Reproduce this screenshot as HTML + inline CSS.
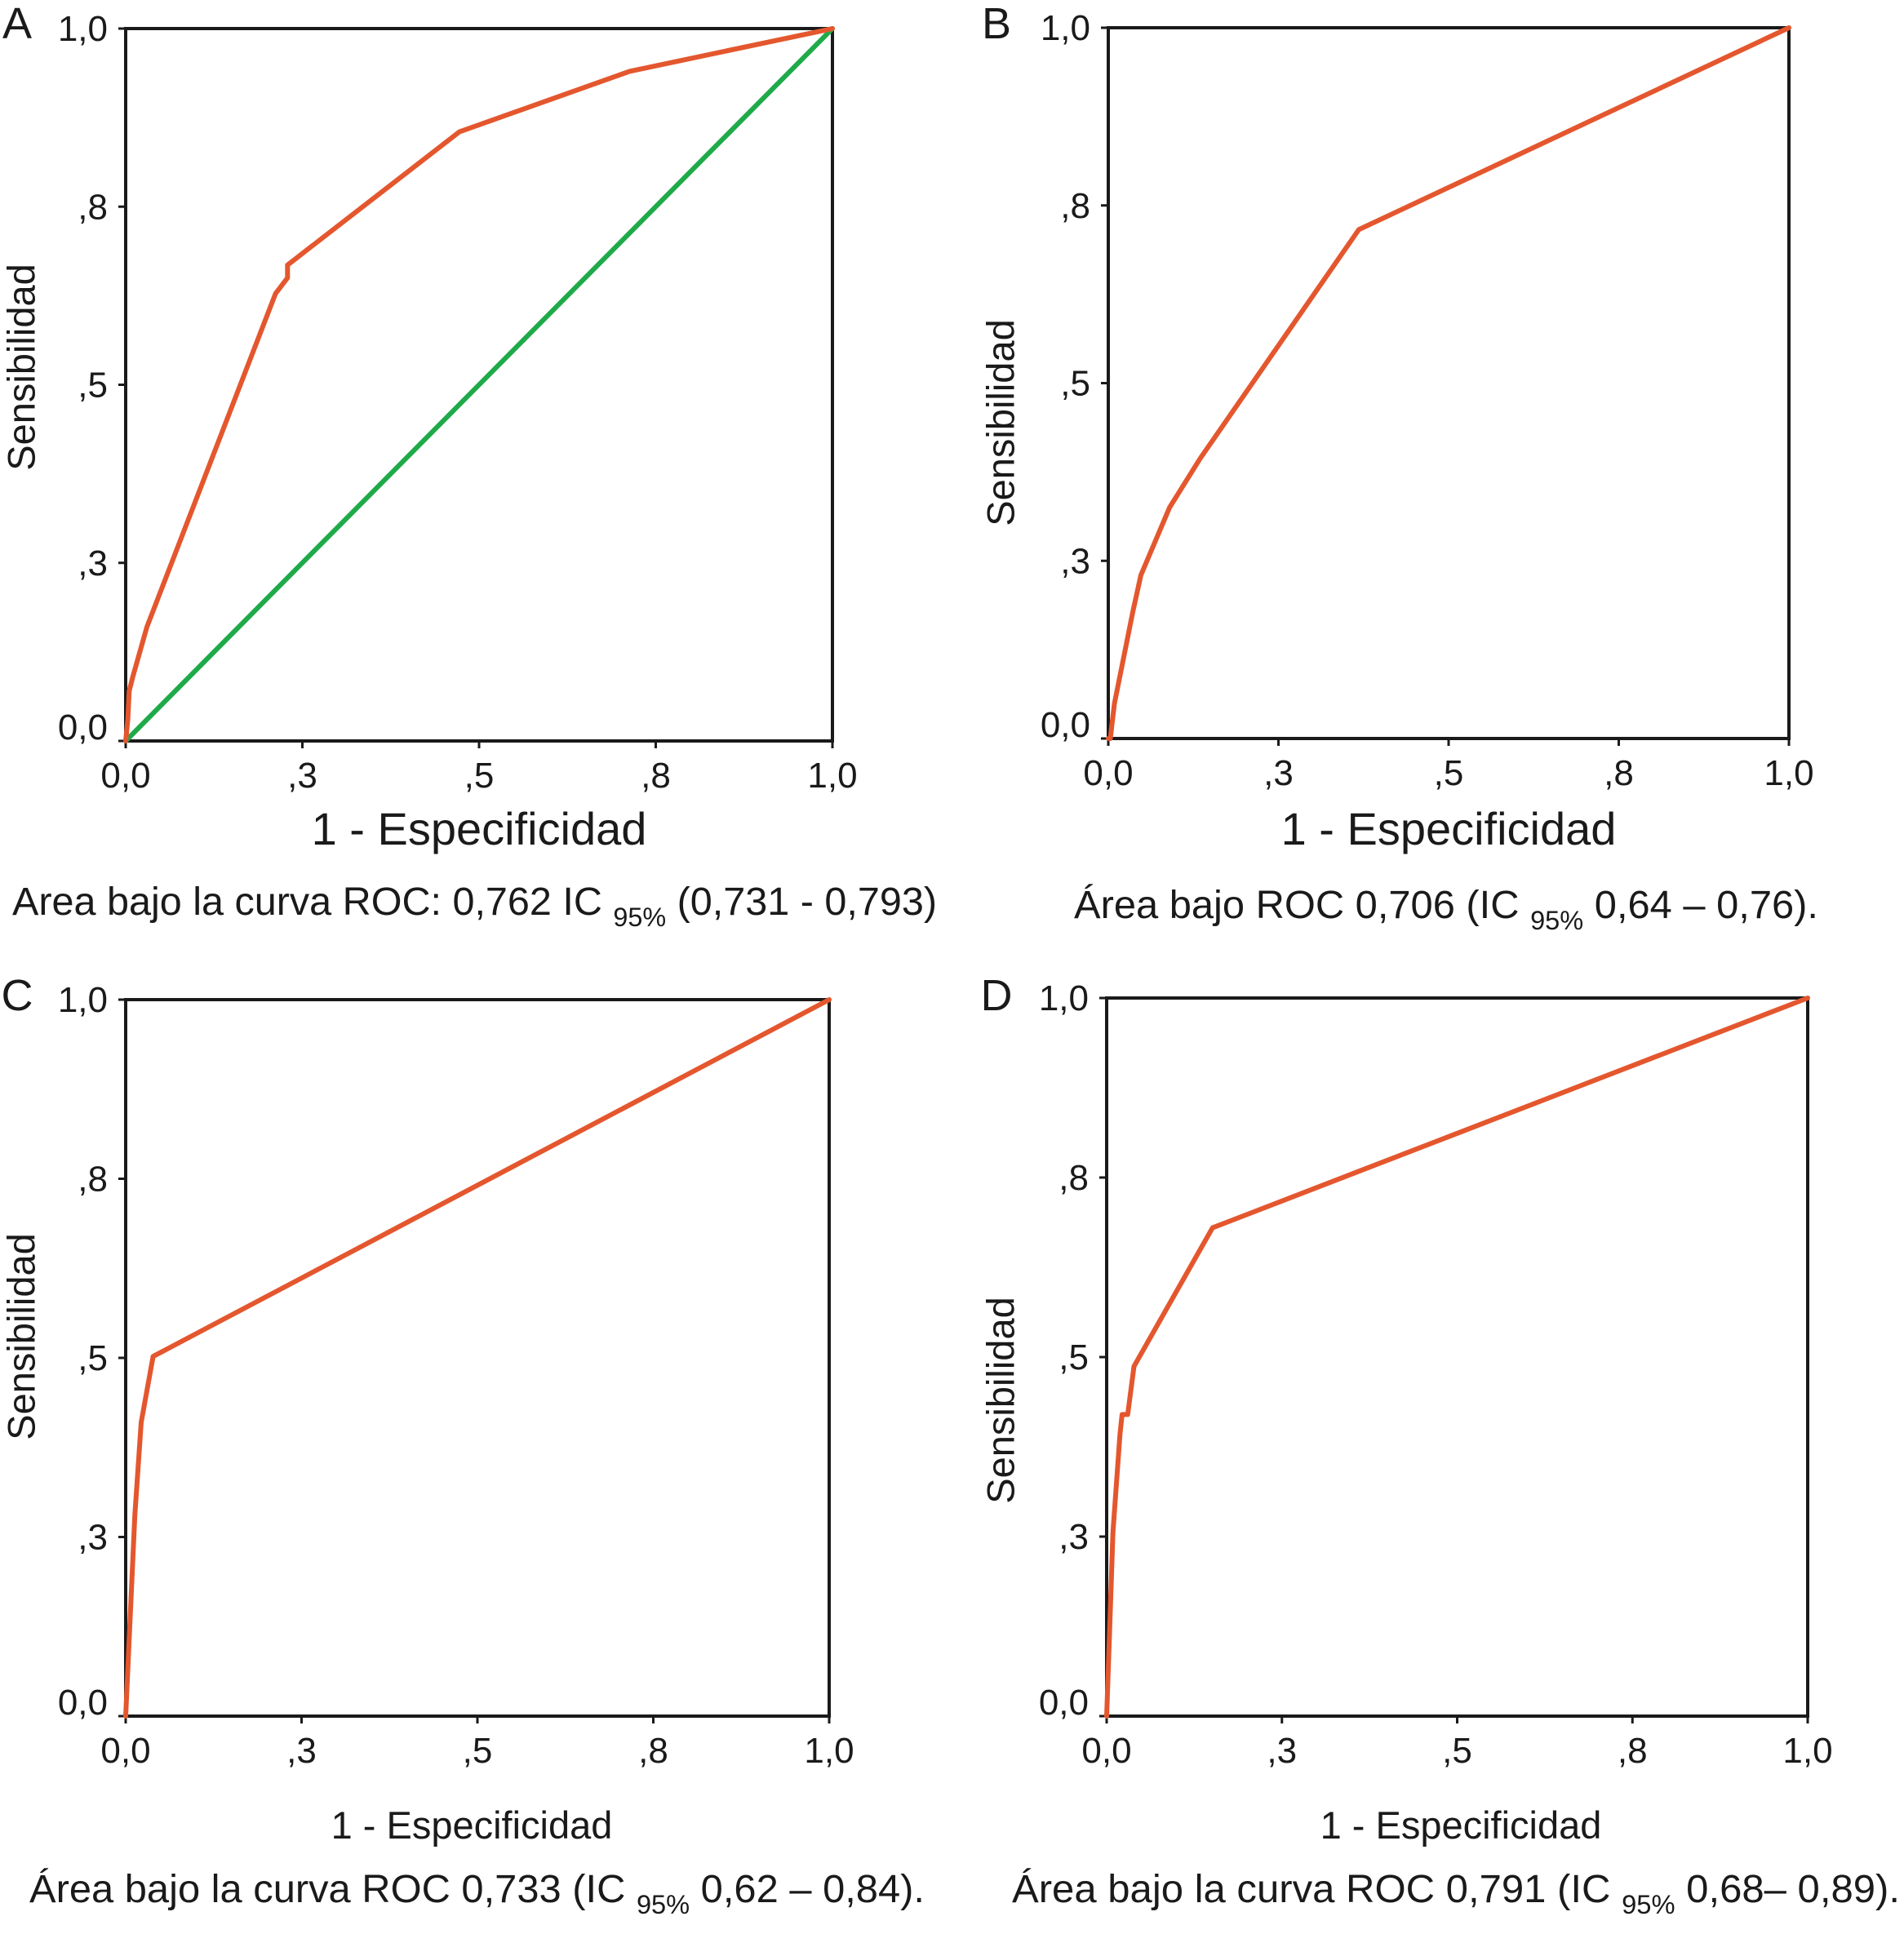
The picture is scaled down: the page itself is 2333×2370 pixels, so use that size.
<!DOCTYPE html>
<html><head><meta charset="utf-8"><style>
html,body{margin:0;padding:0;background:#fff;}
svg{display:block;font-family:"Liberation Sans",Arial,sans-serif;}
</style></head><body>
<svg id="fig" width="2333" height="2370" viewBox="0 0 2333 2370" xmlns="http://www.w3.org/2000/svg"></svg>
<script>
const tickValues = [0, 0.25, 0.5, 0.75, 1];
const tickLabels = ["0,0", ",3", ",5", ",8", "1,0"];
const rocA_x = [0, 0.003, 0.005, 0.01, 0.03, 0.212, 0.225, 0.229, 0.229, 0.238, 0.472, 0.713, 1];
const rocA_y = [0, 0.03, 0.07, 0.09, 0.16, 0.628, 0.645, 0.65, 0.668, 0.675, 0.855, 0.94, 1];
const refA_x = [0, 1];
const refA_y = [0, 1];
const rocB_x = [0, 0.003, 0.009, 0.036, 0.048, 0.09, 0.135, 0.368, 1];
const rocB_y = [0, 0.0, 0.049, 0.178, 0.23, 0.325, 0.394, 0.716, 1];
const rocC_x = [0, 0.013, 0.022, 0.039, 1];
const rocC_y = [0, 0.28, 0.41, 0.502, 1];
const rocD_x = [0, 0.004, 0.009, 0.019, 0.022, 0.03, 0.039, 0.151, 1];
const rocD_y = [0, 0.111, 0.256, 0.392, 0.42, 0.42, 0.487, 0.68, 1];

const NS = "http://www.w3.org/2000/svg";
const svg = document.getElementById("fig");
function mk(tag, attrs, parent) {
  const e = document.createElementNS(NS, tag);
  for (const k in attrs) e.setAttribute(k, attrs[k]);
  (parent || svg).appendChild(e);
  return e;
}
const panels = [
  {id:"a", letter:"A", L:154, R:1020, T:35, B:908, lx:21, ly:47, ytx:26, yty:450, xtx:587, xty:1035, xts:56,
   cap:["Area bajo la curva ROC: 0,762 IC ", "95%", " (0,731 - 0,793)"], cx:15, cy:1121, cw:1133,
   series:[{x:refA_x,y:refA_y,c:"#1faa4a",n:"reference-line"},{x:rocA_x,y:rocA_y,c:"#e4572e",n:"roc-curve"}]},
  {id:"b", letter:"B", L:1358, R:2192, T:34, B:905, lx:1221, ly:47, ytx:1226, yty:518, xtx:1775, xty:1035, xts:56,
   cap:["Área bajo ROC 0,706 (IC ", "95%", " 0,64 – 0,76)."], cx:1316, cy:1125, cw:912,
   series:[{x:rocB_x,y:rocB_y,c:"#e4572e",n:"roc-curve"}]},
  {id:"c", letter:"C", L:154, R:1016, T:1225, B:2103, lx:21, ly:1238, ytx:26, yty:1638, xtx:578, xty:2253, xts:47,
   cap:["Área bajo la curva ROC 0,733 (IC ", "95%", " 0,62 – 0,84)."], cx:36, cy:2331, cw:1097,
   series:[{x:rocC_x,y:rocC_y,c:"#e4572e",n:"roc-curve"}]},
  {id:"d", letter:"D", L:1356, R:2215, T:1223, B:2103, lx:1221, ly:1238, ytx:1226, yty:1716, xtx:1790, xty:2253, xts:47,
   cap:["Área bajo la curva ROC 0,791 (IC ", "95%", "  0,68– 0,89)."], cx:1240, cy:2331, cw:1088,
   series:[{x:rocD_x,y:rocD_y,c:"#e4572e",n:"roc-curve"}]}
];
panels.forEach(p => {
  const g = mk("g", {});
  
  
  const sx = v => p.L + v * (p.R - p.L);
  const sy = v => p.B - v * (p.B - p.T);
  const frame = mk("rect", {x:p.L, y:p.T, width:p.R-p.L, height:p.B-p.T, fill:"none", stroke:"#1a1a1a", "stroke-width":4}, g);
  
  
  tickValues.forEach((v, i) => {
    const xt = mk("line", {x1:sx(v), x2:sx(v), y1:p.B, y2:p.B+9, stroke:"#1a1a1a", "stroke-width":3}, g);
    
    
    const xl = mk("text", {x:sx(v), y:p.B+57, "font-size":44, "text-anchor":"middle", fill:"#1a1a1a"}, g);
    xl.textContent = tickLabels[i];
    
    
    const yt = mk("line", {x1:p.L-9, x2:p.L, y1:sy(v), y2:sy(v), stroke:"#1a1a1a", "stroke-width":3}, g);
    
    
    const yl = mk("text", {x:p.L-22, y:sy(v)+ (i===0 ? -2 : 15), "font-size":44, "text-anchor":"end", fill:"#1a1a1a"}, g);
    yl.textContent = tickLabels[i];
    
    
  });
  p.series.forEach(s => {
    const pts = s.x.map((xv, i) => sx(xv).toFixed(1) + "," + sy(s.y[i]).toFixed(1)).join(" ");
    const pl = mk("polyline", {points:pts, fill:"none", stroke:s.c, "stroke-width":6, "stroke-linejoin":"round", "stroke-linecap":"round"}, g);
    
    
  });
  const lt = mk("text", {x:p.lx, y:p.ly, "font-size":54, "text-anchor":"middle", fill:"#1a1a1a"}, g);
  lt.textContent = p.letter;
  
  
  const yt = mk("text", {x:p.ytx, y:p.yty, "font-size":47, "text-anchor":"middle", fill:"#1a1a1a", transform:"rotate(-90 "+p.ytx+" "+p.yty+")", "dominant-baseline":"central"}, g);
  yt.textContent = "Sensibilidad";
  
  
  const xt = mk("text", {x:p.xtx, y:p.xty, "font-size":p.xts, "text-anchor":"middle", fill:"#1a1a1a"}, g);
  xt.textContent = "1 - Especificidad";
  
  
  const cap = mk("text", {x:p.cx, y:p.cy, "font-size":48, fill:"#1a1a1a", textLength:p.cw, lengthAdjust:"spacingAndGlyphs"}, g);
  
  
  const t1 = mk("tspan", {}, cap); t1.textContent = p.cap[0];
  const t2 = mk("tspan", {"font-size":32, dy:14}, cap); t2.textContent = p.cap[1];
  const t3 = mk("tspan", {dy:-14}, cap); t3.textContent = p.cap[2];
});
</script>
</body></html>
